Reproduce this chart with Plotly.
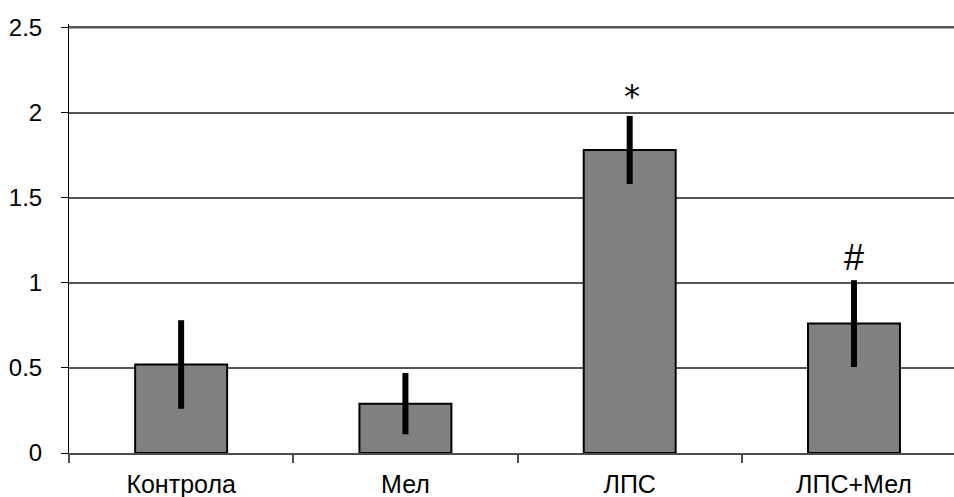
import plotly.graph_objects as go

categories = ["Контрола", "Мел", "ЛПС", "ЛПС+Мел"]
values = [0.52, 0.29, 1.78, 0.76]
errors = [0.26, 0.18, 0.20, 0.255]
marks = ["", "", "*", "#"]
mark_y = [None, None, 2.10, 1.15]
y_ticks = [0, 0.5, 1, 1.5, 2, 2.5]
y_ticklabels = ["0", "0.5", "1", "1.5", "2", "2.5"]

fig = go.Figure()
fig.add_trace(go.Bar(
    x=categories, y=values,
    marker=dict(color="#808080", line=dict(color="black", width=2)),
    error_y=dict(type="data", array=errors, visible=True, color="black",
                 thickness=6, width=0),
    width=0.41,
))

mark_fonts = {"*": dict(family="DejaVu Sans", size=32, color="black"),
              "#": dict(family="Liberation Sans", size=36, color="black")}
for c, m, my in zip(categories, marks, mark_y):
    if m:
        fig.add_annotation(x=c, y=my, text=m, showarrow=False, xshift=2 if m == "*" else 0,
                           yanchor="middle", font=mark_fonts[m])

# top gridline (Plotly drops the gridline nearest the plot edge)
fig.add_shape(type="line", xref="paper", x0=0, x1=1, yref="y",
              y0=y_ticks[-1], y1=y_ticks[-1], layer="below",
              line=dict(color="#555555", width=2))

fig.update_layout(
    width=954, height=497,
    margin=dict(l=69, r=0, t=24, b=44),
    paper_bgcolor="white", plot_bgcolor="white",
    showlegend=False,
    font=dict(family="Liberation Sans, Arial", size=24, color="black"),
    xaxis=dict(
        range=[-0.5, 3.446], showgrid=False, showline=True, linecolor="#4d4d4d",
        linewidth=2, ticks="outside", tickson="boundaries", ticklen=8,
        tickcolor="#4d4d4d", tickwidth=2, ticklabelstandoff=8,
        tickfont=dict(size=25), automargin=False,
    ),
    yaxis=dict(
        range=[0, 2.52], tickvals=y_ticks, ticktext=y_ticklabels,
        showgrid=True, gridcolor="#555555", gridwidth=2,
        showline=True, linecolor="black", linewidth=1,
        ticks="outside", ticklen=7, tickcolor="black", tickwidth=1,
        zeroline=False, ticklabelstandoff=14, automargin=False,
        tickfont=dict(size=24),
    ),
)

fig.write_html("out.html", config={"displayModeBar": False},
               post_script="document.body.style.margin='0';document.body.style.overflow='hidden';")
